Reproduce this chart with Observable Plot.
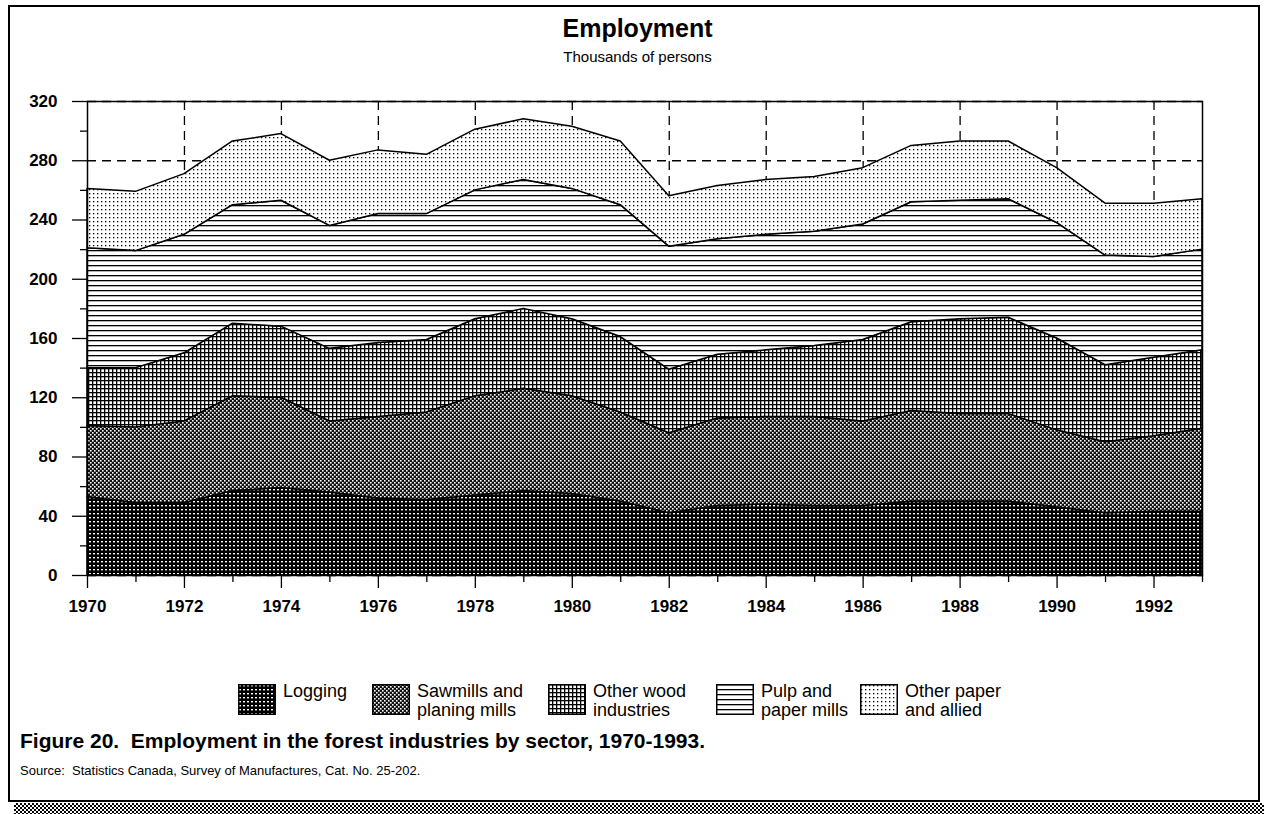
<!DOCTYPE html>
<html>
<head>
<meta charset="utf-8">
<script src="https://cdn.jsdelivr.net/npm/d3@7"></script>
<script src="https://cdn.jsdelivr.net/npm/@observablehq/plot@0.6"></script>
<style>
  body { margin: 0; background: #fff; font-family: "Liberation Sans", Arial, sans-serif; color: #000; }
  #page { position: relative; width: 1264px; height: 814px; overflow: hidden; background: #fff; }
  #border { position: absolute; left: 8px; top: 5px; width: 1252px; height: 797px; border: 2px solid #000; box-sizing: border-box; }
  #shadow { position: absolute; left: 14px; top: 803px; width: 1250px; height: 11px;
    background: repeating-conic-gradient(#000 0 25%, #fff 0 50%) 0 0 / 4px 4px; }
  #title { position: absolute; left: 80px; width: 1115px; top: 14px; text-align: center; font-weight: bold; font-size: 25px; }
  #subtitle { position: absolute; left: 80px; width: 1115px; top: 48px; text-align: center; font-size: 15px; }
  #chart { position: absolute; left: 0; top: 80px; }
  #legend { position: absolute; left: 0; top: 684px; width: 1264px; height: 50px; }
  .item { position: absolute; top: 0; display: flex; align-items: flex-start; }
  .item svg { flex: none; margin-right: 7px; }
  .item div { font-size: 18px; line-height: 19px; margin-top: -2px; white-space: nowrap; }
  #caption { position: absolute; left: 20px; top: 729px; font-weight: bold; font-size: 21px; white-space: pre; }
  #source { position: absolute; left: 20px; top: 763px; font-size: 13px; white-space: pre; }
</style>
</head>
<body>
<svg width="0" height="0" style="position:absolute">
  <defs>
    <pattern id="p-log" width="4" height="4" patternUnits="userSpaceOnUse">
      <rect width="4" height="4" fill="#000"/>
      <rect x="1" y="1" width="2" height="1.4" fill="#fff"/>
    </pattern>
    <pattern id="p-saw" width="4" height="4" patternUnits="userSpaceOnUse">
      <rect width="4" height="4" fill="#111"/>
      <rect x="0" y="0" width="1.6" height="1.6" fill="#fff"/>
      <rect x="2" y="2" width="1.6" height="1.6" fill="#fff"/>
    </pattern>
    <pattern id="p-wood" width="4" height="4" patternUnits="userSpaceOnUse">
      <rect width="4" height="4" fill="#fff"/>
      <rect x="0" y="0" width="4" height="1.3" fill="#000"/>
      <rect x="0" y="0" width="1.3" height="4" fill="#000"/>
    </pattern>
    <pattern id="p-pulp" width="5" height="5" patternUnits="userSpaceOnUse">
      <rect width="5" height="5" fill="#fff"/>
      <rect x="0" y="0" width="5" height="1.3" fill="#000"/>
    </pattern>
    <pattern id="p-paper" width="4" height="4" patternUnits="userSpaceOnUse">
      <rect width="4" height="4" fill="#fff"/>
      <rect x="1" y="1" width="1.3" height="1.3" fill="#000"/>
    </pattern>
  </defs>
</svg>
<div id="page">
  <div id="border"></div>
  <div id="shadow"></div>
  <div id="title">Employment</div>
  <div id="subtitle">Thousands of persons</div>
  <div id="chart"></div>
  <div id="legend"></div>
  <div id="caption">Figure 20.  Employment in the forest industries by sector, 1970-1993.</div>
  <div id="source">Source:  Statistics Canada, Survey of Manufactures, Cat. No. 25-202.</div>
</div>
<script>
// ---- Data (thousands of persons) ----
const years = [1970,1971,1972,1973,1974,1975,1976,1977,1978,1979,1980,1981,1982,1983,1984,1985,1986,1987,1988,1989,1990,1991,1992,1993];
const sectors = ["Logging","Sawmills and planing mills","Other wood industries","Pulp and paper mills","Other paper and allied"];
const legendLabels = [["Logging"],["Sawmills and","planing mills"],["Other wood","industries"],["Pulp and","paper mills"],["Other paper","and allied"]];
const logging    = [53,49,49,57,59,56,52,51,54,57,55,50,42,47,48,47,47,50,50,50,46,42,43,43];
const sawmills   = [48,51,55,64,61,48,55,59,67,69,66,60,54,59,59,60,57,61,59,59,52,48,51,56];
const otherWood  = [39,40,46,49,48,49,50,49,52,54,52,51,43,43,45,48,55,60,64,65,62,52,53,53];
const pulpPaper  = [81,79,80,80,85,83,87,85,87,87,88,89,83,78,78,77,78,81,80,80,78,74,68,68];
const otherPaper = [40,40,41,43,45,44,43,40,41,41,42,43,34,36,37,37,38,38,40,39,37,35,36,34];
const yMajor = [0,40,80,120,160,200,240,280,320];
const yMinor = [20,60,100,140,180,220,260,300];
const xMajor = [1970,1972,1974,1976,1978,1980,1982,1984,1986,1988,1990,1992];
const xMinor = [1971,1973,1975,1977,1979,1981,1983,1985,1987,1989,1991,1993];
const xGrid  = [1972,1974,1976,1978,1980,1982,1984,1986,1988,1990,1992];
const patternIds = ["p-log","p-saw","p-wood","p-pulp","p-paper"];
const legendLefts = [238, 372, 548, 716, 860];

const seriesValues = [logging, sawmills, otherWood, pulpPaper, otherPaper];
const rows = [];
sectors.forEach((s, i) => years.forEach((yr, j) => rows.push({year: yr, sector: s, value: seriesValues[i][j]})));

const chart = Plot.plot({
  width: 1264,
  height: 545,
  marginLeft: 87,
  marginRight: 62,
  marginTop: 21,
  marginBottom: 50,
  style: {fontFamily: "'Liberation Sans', Arial, sans-serif", fontSize: "17px", fontWeight: "bold", color: "#000", background: "transparent"},
  x: {domain: [1970, 1993], axis: null, label: null},
  y: {domain: [0, 320], axis: null, label: null},
  color: {domain: sectors, range: patternIds.map(id => `url(#${id})`)},
  marks: [
    Plot.ruleX(xGrid, {x: d => d, stroke: "#000", strokeWidth: 1.3, strokeDasharray: "9,6"}),
    Plot.ruleY(yMajor, {y: d => d, stroke: "#000", strokeWidth: 1.3, strokeDasharray: "9,6"}),
    Plot.areaY(rows, {x: "year", y: "value", z: "sector", fill: "sector", order: sectors, stroke: "#000", strokeWidth: 1.5}),
    Plot.frame({stroke: "#000", strokeWidth: 1.5}),
    Plot.axisY(yMajor, {tickSize: 15, tickPadding: 15, strokeWidth: 1.3, label: null}),
    Plot.axisY(yMinor, {tickSize: 7, tickFormat: () => "", strokeWidth: 1.3, label: null}),
    Plot.axisX(xMajor, {tickSize: 13, tickPadding: 11, tickFormat: d => String(d), strokeWidth: 1.3, label: null}),
    Plot.axisX(xMinor, {tickSize: 7, tickFormat: () => "", strokeWidth: 1.3, label: null})
  ]
});
document.getElementById("chart").appendChild(chart);

// Legend
const legend = document.getElementById("legend");
sectors.forEach((s, i) => {
  const item = document.createElement("div");
  item.className = "item";
  item.style.left = legendLefts[i] + "px";
  item.innerHTML = `<svg width="38" height="31"><rect x="0.75" y="0.75" width="36.5" height="29.5" fill="url(#${patternIds[i]})" stroke="#000" stroke-width="1.5"/></svg><div>${legendLabels[i].join("<br>")}</div>`;
  legend.appendChild(item);
});
</script>
</body>
</html>
